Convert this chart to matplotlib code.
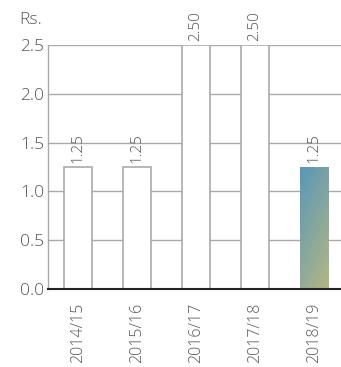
import numpy as np
import matplotlib
matplotlib.use("Agg")
import matplotlib.pyplot as plt
from matplotlib.colors import LinearSegmentedColormap

years = ["2014/15", "2015/16", "2016/17", "2017/18", "2018/19"]
dividends = [1.25, 1.25, 2.50, 2.50, 1.25]
value_labels = ["1.25", "1.25", "2.50", "2.50", "1.25"]
y_ticks = [0.0, 0.5, 1.0, 1.5, 2.0, 2.5]

plt.rcParams["font.family"] = ["Open Sans", "DejaVu Sans"]
plt.rcParams["font.weight"] = "light"

text_color = "#555555"
edge_color = "#aaaaaa"

fig = plt.figure(figsize=(3.41, 3.67), dpi=100)
ax = fig.add_axes([0.141, 0.2125, 0.859, 0.6649])

x = np.arange(len(years))
width = 0.48
bars = ax.bar(x, dividends, width=width, facecolor="white",
              edgecolor=edge_color, linewidth=1.2, zorder=2)

# Highlight the latest year with a diagonal gradient fill
last = bars[-1]
cmap = LinearSegmentedColormap.from_list("grad", ["#5897b9", "#b3b783"])
gx, gy = np.meshgrid(np.linspace(0, 1, 100), np.linspace(0, 1, 100))
grad = (gx * 0.35 + gy * 0.65)
bx0 = last.get_x()
img = ax.imshow(grad, cmap=cmap, extent=[bx0, bx0 + width, 0, dividends[-1]],
                aspect="auto", zorder=3, interpolation="bilinear")
img.set_clip_path(last)
last.set_edgecolor("none")

for xi, h, lab in zip(x, dividends, value_labels):
    ax.text(xi, h + 0.045, lab, rotation=90, ha="center", va="bottom",
            fontsize=11, color=text_color, clip_on=False)

ax.set_xlim(-0.508, 4.46)
ax.set_ylim(0, 2.5)
ax.set_yticks(y_ticks)
ax.set_yticklabels([f"{v:.1f}" for v in y_ticks])
ax.set_xticks(x)
ax.set_xticklabels(years, rotation=90)
ax.tick_params(axis="both", length=0, labelcolor=text_color)
ax.tick_params(axis="y", pad=3, labelsize=12.5)
ax.tick_params(axis="x", pad=10, labelsize=11.5)

ax.yaxis.grid(True, color="#aaaaaa", linewidth=1.0, zorder=0)
ax.set_axisbelow(True)
for s in ["top", "right"]:
    ax.spines[s].set_visible(False)
ax.spines["left"].set_color("#aaaaaa")
ax.spines["left"].set_linewidth(1.0)
ax.spines["bottom"].set_color("#222222")
ax.spines["bottom"].set_linewidth(1.5)
ax.spines["bottom"].set_zorder(5)

fig.text(19 / 341, 1 - 24 / 367, "Rs.", fontsize=12.5, color=text_color,
         ha="left", va="baseline")

fig.savefig("out.png", dpi=100)
